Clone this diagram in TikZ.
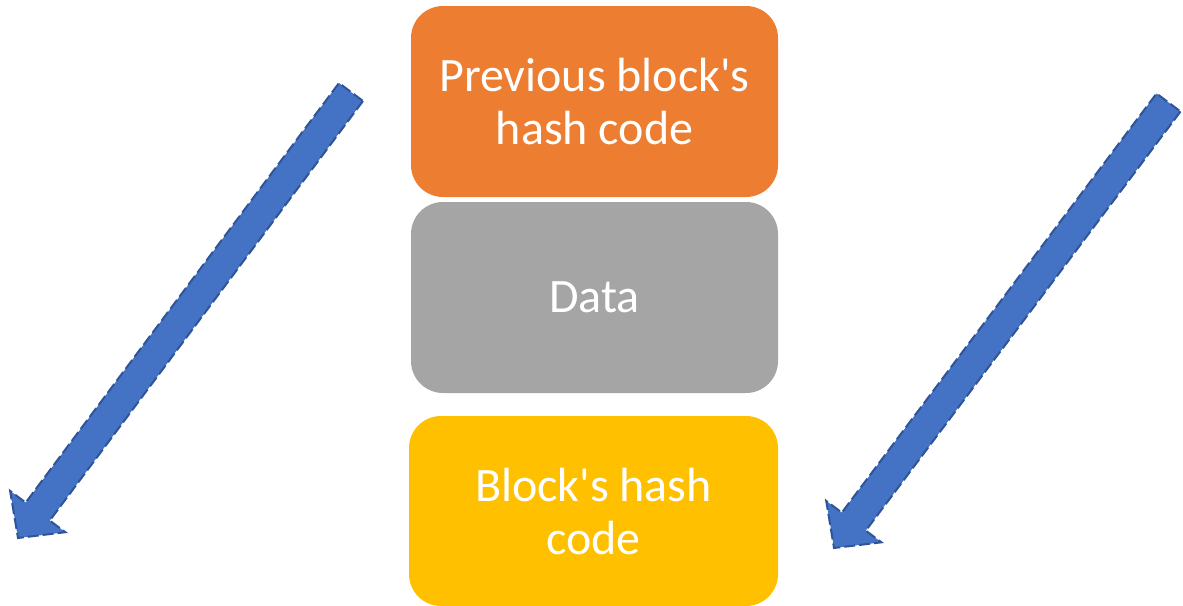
\documentclass[tikz,border=0pt]{standalone}
\usepackage{fontspec}
\setmainfont{Carlito}
\usetikzlibrary{calc}
\definecolor{boxorange}{HTML}{ED7D31}
\definecolor{boxgray}{HTML}{A5A5A5}
\definecolor{boxyellow}{HTML}{FFC000}
\definecolor{arrowfill}{HTML}{4472C4}
\definecolor{arrowedge}{HTML}{2F5597}
\tikzset{
  block/.style={rounded corners=32pt, minimum width=367pt, inner sep=0pt,
    text=white, align=center, font=\fontsize{48}{53}\selectfont},
  fatarrow/.style={fill=arrowfill, draw=arrowedge, line width=2pt,
    dash pattern=on 11pt off 4pt, line join=miter}
}
\begin{document}
\begin{tikzpicture}[x=1pt,y=-1pt]
\useasboundingbox (0,0) rectangle (1183,605);
% boxes
\node[block, fill=boxorange, minimum height=191pt] (prev) at (594.5,101.5) {Previous block\textquotesingle s\\hash code};
\node[block, fill=boxgray, minimum height=191pt] (data) at (594.5,297.5) {Data};
\node[block, fill=boxyellow, minimum width=369pt, minimum height=190pt] (own) at (593.5,511) {Block\textquotesingle s hash\\code};
% left arrow
\coordinate (lt) at (351,92);
\coordinate (lp) at (18,538);
\coordinate (lb) at ($(lp)!33pt!(lt)$);
\draw[fatarrow] ($(lt)!15pt!90:(lp)$) -- ($(lb)!15pt!-90:(lt)$) -- ($(lb)!34.5pt!-90:(lt)$) -- (lp)
  -- ($(lb)!34.5pt!90:(lt)$) -- ($(lb)!15pt!90:(lt)$) -- ($(lt)!15pt!-90:(lp)$) -- cycle;
% right arrow
\coordinate (rt) at (1168.5,102.5);
\coordinate (rp) at (834,548);
\coordinate (rb) at ($(rp)!33pt!(rt)$);
\draw[fatarrow] ($(rt)!15pt!90:(rp)$) -- ($(rb)!15pt!-90:(rt)$) -- ($(rb)!34.5pt!-90:(rt)$) -- (rp)
  -- ($(rb)!34.5pt!90:(rt)$) -- ($(rb)!15pt!90:(rt)$) -- ($(rt)!15pt!-90:(rp)$) -- cycle;
\end{tikzpicture}
\end{document}
